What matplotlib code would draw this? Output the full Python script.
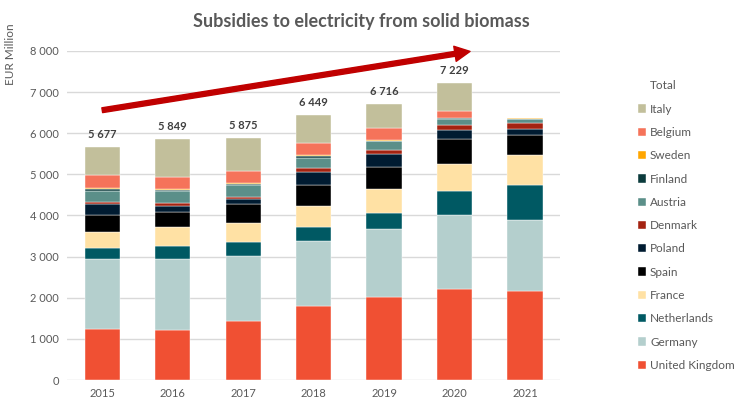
import matplotlib.pyplot as plt
import numpy as np
from matplotlib.patches import Patch

years = ["2015", "2016", "2017", "2018", "2019", "2020", "2021"]

# stacked from the bottom up
countries = ["United Kingdom", "Germany", "Netherlands", "France", "Spain", "Poland",
             "Denmark", "Austria", "Finland", "Sweden", "Belgium", "Italy"]

uk          = [1250, 1225, 1435, 1800, 2010, 2205, 2160]
germany     = [1690, 1710, 1590, 1590, 1670, 1800, 1725]
netherlands = [270, 325, 335, 325, 375, 600, 850]
france      = [400, 455, 450, 520, 585, 655, 730]
spain       = [400, 375, 480, 495, 540, 600, 490]
poland      = [260, 145, 105, 325, 315, 230, 145]
denmark     = [50, 75, 55, 105, 90, 100, 138]
austria     = [270, 275, 285, 250, 220, 155, 105]
finland     = [50, 25, 30, 25, 10, 15, 5]
sweden      = [30, 35, 20, 35, 20, 20, 15]
belgium     = [310, 300, 305, 300, 300, 170, 0]
italy       = [697, 904, 785, 679, 581, 679, 0]

totals = [5677, 5849, 5875, 6449, 6716, 7229, None]

colors = ["#F05033", "#B4CFCD", "#005963", "#FFE1A4", "#000000", "#001B31",
          "#A42311", "#5B8F89", "#0B3B3C", "#FFA600", "#F5735A", "#C2BF9B"]

series = [uk, germany, netherlands, france, spain, poland,
          denmark, austria, finland, sweden, belgium, italy]

plt.rcParams['font.family'] = ['Lato', 'DejaVu Sans']

fig = plt.figure(figsize=(7.34, 3.99), dpi=100)
ax = fig.add_axes([0.0913, 0.0476, 0.672, 0.8246])

x = np.arange(len(years))
bottom = np.zeros(len(years))
for name, vals, c in zip(countries, series, colors):
    ax.bar(x, vals, 0.5, bottom=bottom, color=c, label=name,
           edgecolor="#ffffff", linewidth=0.3, zorder=3)
    bottom += np.array(vals)

for i, t in enumerate(totals):
    if t is None:
        continue
    ax.text(x[i], t + 170, f"{t:,}".replace(",", " "), ha="center", va="bottom",
            fontsize=8, fontweight="bold", color="#404040")

ax.set_xlim(-0.5, 6.5)
ax.set_ylim(0, 8000)
ax.set_yticks(range(0, 8001, 1000))
ax.set_yticklabels([f"{v:,}".replace(",", " ") for v in range(0, 8001, 1000)])
ax.set_xticks(x)
ax.set_xticklabels(years)
ax.tick_params(length=0, labelsize=8, colors="#595959", pad=6)
ax.grid(axis="y", color="#D9D9D9", linewidth=1, zorder=0)
for s in ax.spines.values():
    s.set_visible(False)

ax.set_ylabel("EUR Million", fontsize=8.5, color="#595959")
ax.yaxis.set_label_coords(-0.103, 0.99)

# trend arrow
ax.annotate("", xy=(5.22, 7990), xytext=(0.0, 6560), annotation_clip=False,
            arrowprops=dict(arrowstyle="simple,head_length=1.1,head_width=1.1,tail_width=0.35",
                            color="#C00000", shrinkA=0, shrinkB=0), zorder=5)

fig.text(0.493, 0.945, "Subsidies to electricity from solid biomass", ha="center",
         va="center", fontsize=13, fontweight="bold", color="#595959")

handles = [Patch(facecolor="none", edgecolor="none", label="Total")]
h, l = ax.get_legend_handles_labels()
handles += h[::-1]
leg = fig.legend(handles=handles, loc="upper left", bbox_to_anchor=(0.855, 0.825),
                 frameon=False, fontsize=8.5, labelcolor="#595959",
                 handlelength=0.7, handleheight=0.7, handletextpad=0.3,
                 labelspacing=1.04)

fig.savefig("out.png", dpi=100)
